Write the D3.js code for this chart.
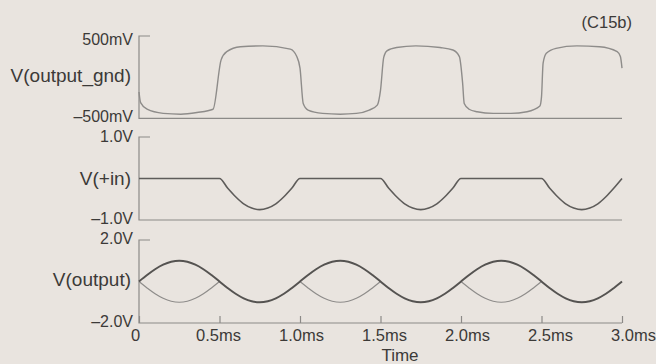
<!DOCTYPE html>
<html><head><meta charset="utf-8">
<script src="https://cdn.jsdelivr.net/npm/d3@7"></script>
<style>
html,body{margin:0;padding:0;background:#e9e4df;}
svg{display:block;}
text{font-family:"Liberation Sans",Arial,sans-serif;fill:#3c3a38;}
</style></head>
<body><svg id="c" width="656" height="364"></svg>
<script>
// ---- data ----
const timeTicks = [0, 0.5, 1.0, 1.5, 2.0, 2.5, 3.0];
const timeTickLabels = ["0", "0.5ms", "1.0ms", "1.5ms", "2.0ms", "2.5ms", "3.0ms"];
const seriesNames = ["V(output_gnd)", "V(+in)", "V(output)"];
const yDomains = [[-0.5, 0.5], [-1, 1], [-2, 2]];
const yTickLabels = [["500mV", "\u2013500mV"], ["1.0V", "\u20131.0V"], ["2.0V", "\u20132.0V"]];

// V(output_gnd) samples (ms, V)
const gndT = [0,0.01,0.05,0.15,0.26,0.36,0.46,0.51,0.545,0.63,0.77,0.94,0.98,1.0,1.02,1.05,1.14,1.25,1.35,1.43,1.48,1.50,1.52,1.54,1.60,1.72,1.87,1.95,1.99,2.01,2.02,2.05,2.10,2.20,2.31,2.41,2.49,2.50,2.51,2.53,2.59,2.72,2.86,2.97,2.99,3.0];
const gndV = [-0.18,-0.31,-0.39,-0.44,-0.45,-0.43,-0.39,0.21,0.31,0.37,0.38,0.34,0.25,0.11,-0.32,-0.40,-0.44,-0.45,-0.44,-0.40,-0.34,-0.16,0.24,0.32,0.36,0.38,0.36,0.33,0.25,-0.07,-0.32,-0.39,-0.42,-0.44,-0.44,-0.42,-0.35,-0.24,0.17,0.29,0.35,0.38,0.37,0.31,0.25,0.11];

// common time base for the other traces (ms)
const timeMs = [0,0.05,0.1,0.15,0.2,0.25,0.3,0.35,0.4,0.45,0.5,0.55,0.6,0.65,0.7,0.75,0.8,0.85,0.9,0.95,
  1.0,1.05,1.1,1.15,1.2,1.25,1.3,1.35,1.4,1.45,1.5,1.55,1.6,1.65,1.7,1.75,1.8,1.85,1.9,1.95,
  2.0,2.05,2.1,2.15,2.2,2.25,2.3,2.35,2.4,2.45,2.5,2.55,2.6,2.65,2.7,2.75,2.8,2.85,2.9,2.95,3.0];
// V(+in)
const inV = [0,0,0,0,0,0,0,0,0,0,0,-0.23,-0.44,-0.61,-0.71,-0.75,-0.71,-0.61,-0.44,-0.23,
  0,0,0,0,0,0,0,0,0,0,0,-0.23,-0.44,-0.61,-0.71,-0.75,-0.71,-0.61,-0.44,-0.23,
  0,0,0,0,0,0,0,0,0,0,0,-0.23,-0.44,-0.61,-0.71,-0.75,-0.71,-0.61,-0.44,-0.23,0];
// V(output) (thick)
const outV = [0,0.31,0.59,0.81,0.95,1,0.95,0.81,0.59,0.31,0,-0.31,-0.59,-0.81,-0.95,-1,-0.95,-0.81,-0.59,-0.31,
  0,0.31,0.59,0.81,0.95,1,0.95,0.81,0.59,0.31,0,-0.31,-0.59,-0.81,-0.95,-1,-0.95,-0.81,-0.59,-0.31,
  0,0.31,0.59,0.81,0.95,1,0.95,0.81,0.59,0.31,0,-0.31,-0.59,-0.81,-0.95,-1,-0.95,-0.81,-0.59,-0.31,0];
// second (thin) trace in the V(output) panel, where it separates from the thick one
const outThinV = [0,-0.31,-0.59,-0.81,-0.95,-1,-0.95,-0.81,-0.59,-0.31,0,null,null,null,null,null,null,null,null,null,
  0,-0.31,-0.59,-0.81,-0.95,-1,-0.95,-0.81,-0.59,-0.31,0,null,null,null,null,null,null,null,null,null,
  0,-0.31,-0.59,-0.81,-0.95,-1,-0.95,-0.81,-0.59,-0.31,0,null,null,null,null,null,null,null,null,null,null];

// ---- layout ----
const svg = d3.select("#c");
const x = d3.scaleLinear().domain([0, 3]).range([139, 622]);
const panels = [[36, 118.3], [137, 220], [240, 323]]; // [top, bottom] pixel rows
const ys = yDomains.map((dom, i) => d3.scaleLinear().domain(dom).range([panels[i][1], panels[i][0]]));
const axisColor = "#8c8a88";

// panel frames and labels
const labelBase = [[44.5, 122], [142, 223.5], [244, 326.5]];
const nameBase = [82, 185, 285.5];
ys.forEach((y, i) => {
  const d = yDomains[i];
  const g = svg.append("g");
  g.append("path")
    .attr("d", `M${x(0)+11},${y(d[1])}H${x(0)}V${y(d[0])}H${x(3)}`)
    .attr("fill", "none").attr("stroke", axisColor).attr("stroke-width", 1.2);
  g.append("text").attr("x", 133).attr("y", labelBase[i][0]).attr("text-anchor", "end")
    .attr("font-size", 16).text(yTickLabels[i][0]);
  g.append("text").attr("x", 133).attr("y", labelBase[i][1]).attr("text-anchor", "end")
    .attr("font-size", 16).text(yTickLabels[i][1]);
  g.append("text").attr("x", 131).attr("y", nameBase[i]).attr("text-anchor", "end")
    .attr("font-size", 19).text(seriesNames[i]);
});

// time axis on the bottom panel
const xAxis = d3.axisBottom(x).tickValues(timeTicks)
  .tickFormat((d, i) => timeTickLabels[i]).tickSize(-7).tickSizeOuter(0).tickPadding(6.5);
const ax = svg.append("g").attr("transform", `translate(0,${panels[2][1]})`).call(xAxis);
ax.select(".domain").remove();
ax.selectAll(".tick line").attr("stroke", axisColor).attr("stroke-width", 1.2);
ax.selectAll(".tick text").attr("font-size", 16.5).attr("font-family", "Liberation Sans, Arial, sans-serif")
  .attr("fill", "#3c3a38").attr("dx", d => -4 + 0.031 * (x(d) - x(0)));
svg.append("text").attr("x", 400).attr("y", 361).attr("text-anchor", "middle")
  .attr("font-size", 17).text("Time");
svg.append("text").attr("x", 632).attr("y", 28).attr("text-anchor", "end")
  .attr("font-size", 16.5).text("(C15b)");

// traces
const gndLine = d3.line().x((d, i) => x(gndT[i])).y(d => ys[0](d)).curve(d3.curveMonotoneX);
svg.append("path").attr("d", gndLine(gndV)).attr("fill", "none")
  .attr("stroke", "#8e8c8a").attr("stroke-width", 1.4);

const inLine = d3.line().x((d, i) => x(timeMs[i])).y(d => ys[1](d)).curve(d3.curveMonotoneX);
svg.append("path").attr("d", inLine(inV)).attr("fill", "none")
  .attr("stroke", "#5e5c5a").attr("stroke-width", 1.6);

const thinLine = d3.line().defined(d => d !== null).x((d, i) => x(timeMs[i])).y(d => ys[2](d))
  .curve(d3.curveCatmullRom);
svg.append("path").attr("d", thinLine(outThinV)).attr("fill", "none")
  .attr("stroke", "#8e8c8a").attr("stroke-width", 1.2);
const outLine = d3.line().x((d, i) => x(timeMs[i])).y(d => ys[2](d)).curve(d3.curveCatmullRom);
svg.append("path").attr("d", outLine(outV)).attr("fill", "none")
  .attr("stroke", "#555351").attr("stroke-width", 2);
</script></body></html>
